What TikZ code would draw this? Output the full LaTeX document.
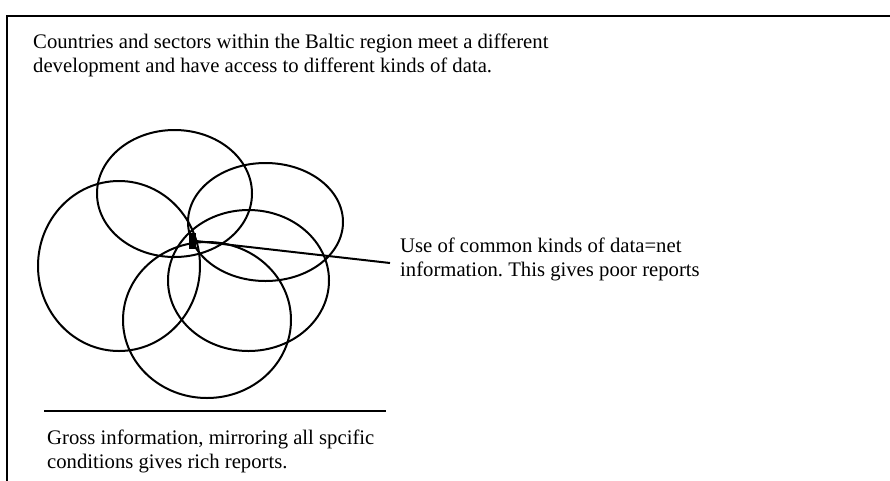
\documentclass[tikz,border=0pt]{standalone}
\usepackage{fontspec}
\setmainfont{Liberation Serif}
\begin{document}
\begin{tikzpicture}[x=1pt,y=-1pt,
  ring/.style={draw=black,line width=2pt},
  % anchored at the baseline of the last line of each two-line block
  txt/.style={anchor=base west,inner sep=0pt,align=left,
    font=\fontsize{20.7}{24.5}\selectfont\frenchspacing},
  hubbox/.style={fill=black,inner sep=0pt,minimum width=7pt,minimum height=16pt},
  leader/.style={line width=2pt}]
\useasboundingbox (0,0) rectangle (890,480);
\clip (0,0) rectangle (890,480);
% outer frame, open to the right and below
\draw[line width=2pt] (7,16) rectangle (960,540);

% heading
\node[txt] (head) at (33,72.5) {Countries and sectors within the Baltic region meet a different\\
development and have access to different kinds of data.};

% overlapping domains
\draw[ring] (174.5,193.5) ellipse (77.5 and 63.5);
\draw[ring] (119,266) ellipse (81 and 85);
\draw[ring] (265.5,222) ellipse (77.5 and 59);
\draw[ring] (248.5,280.5) ellipse (80.5 and 70.5);
\draw[ring] (207,320) ellipse (84 and 78);

% common core and its label
\node[hubbox] (hub) at (192.5,241) {};
\coordinate (tip) at (390,263);
\draw[leader] (hub.east) -- (tip);
\node[txt] (net) at (400,276.5) {Use of common kinds of data=net\\
information. This gives poor reports};

% base line and caption
\coordinate (baseL) at (44,411);
\coordinate (baseR) at (386,411);
\draw[line width=2.4pt] (baseL) -- (baseR);
\node[txt] (gross) at (47,468.5) {Gross information, mirroring all spcific\\
conditions gives rich reports.};
\end{tikzpicture}
\end{document}
